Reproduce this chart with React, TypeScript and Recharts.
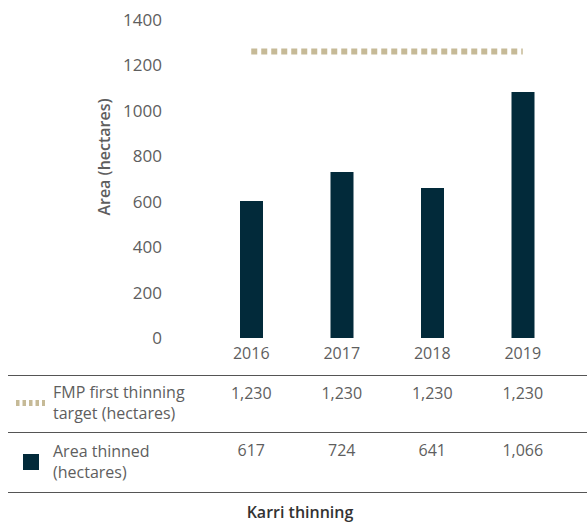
import React from 'react';
import { ComposedChart, Bar, Line, XAxis, YAxis } from 'recharts';

const years = ['2016', '2017', '2018', '2019'];
// bar heights as drawn in the picture (hectares)
const areaThinned = [603, 731, 660, 1083];
// target line level as drawn in the picture
const targetLevel = [1261, 1261, 1261, 1261];
// table labels
const targetLabels = ['1,230', '1,230', '1,230', '1,230'];
const areaLabels = ['617', '724', '641', '1,066'];
const yTicks = [0, 200, 400, 600, 800, 1000, 1200, 1400];

const data = years.map((y, i) => ({ year: y, area: areaThinned[i], target: targetLevel[i] }));

const FONT = '"Open Sans", sans-serif';
const GREY = '#5e5e5e';
const NAVY = '#022a3a';
const GOLD = '#c6ba97';

const XTick = (props: any) => {
  const { x, y, payload } = props;
  const i = years.indexOf(payload.value);
  const common = { x, textAnchor: 'middle' as const, fill: GREY, fontFamily: FONT, fontSize: 16, dy: '0.35em' };
  return (
    <g>
      <text {...common} y={y + 15}>{payload.value}</text>
      <text {...common} y={y + 55}>{targetLabels[i]}</text>
      <text {...common} y={y + 112}>{areaLabels[i]}</text>
    </g>
  );
};

const YLabel = () => (
  <text
    x={104}
    y={157}
    transform="rotate(-90 104 157)"
    textAnchor="middle"
    dy="0.35em"
    fill={GREY}
    fontFamily={FONT}
    fontSize={16}
    fontWeight={600}
  >
    Area (hectares)
  </text>
);

export default function App() {
  return (
    <div style={{ position: 'fixed', left: 0, top: 0, width: 587, height: 524, background: '#fff' }}>
      <ComposedChart
        width={587}
        height={524}
        data={data}
        margin={{ top: 20, right: 19, bottom: 156, left: 0 }}
      >
        <XAxis
          dataKey="year"
          axisLine={false}
          tickLine={false}
          tickSize={0}
          tickMargin={0}
          height={30}
          tick={<XTick />}
          interval={0}
        />
        <YAxis
          domain={[0, 1400]}
          ticks={yTicks}
          axisLine={false}
          tickLine={false}
          tickSize={0}
          tickMargin={44}
          width={206}
          tick={{ fill: GREY, fontFamily: FONT, fontSize: 17 }}
          label={<YLabel />}
        />
        <Bar dataKey="area" fill={NAVY} barSize={23} isAnimationActive={false} />
        <Line
          dataKey="target"
          stroke={GOLD}
          strokeWidth={6}
          strokeDasharray="6 4"
          dot={false}
          activeDot={false}
          isAnimationActive={false}
        />
      </ComposedChart>
      <svg
        width={587}
        height={524}
        style={{ position: 'absolute', left: 0, top: 0, pointerEvents: 'none' }}
      >
        <line x1={8} x2={587} y1={375.5} y2={375.5} stroke="#555" strokeWidth={1} />
        <line x1={8} x2={587} y1={432.5} y2={432.5} stroke="#555" strokeWidth={1} />
        <line x1={8} x2={587} y1={492.5} y2={492.5} stroke="#555" strokeWidth={1} />
        <line x1={16} x2={45} y1={403} y2={403} stroke={GOLD} strokeWidth={6} strokeDasharray="3.5 3" />
        <rect x={23} y={454} width={16} height={16} fill={NAVY} />
        <g fill={GREY} fontFamily={FONT} fontSize={16}>
          <text x={53} y={392} dy="0.35em">FMP first thinning</text>
          <text x={53} y={413} dy="0.35em">target (hectares)</text>
          <text x={53} y={451} dy="0.35em">Area thinned</text>
          <text x={53} y={472} dy="0.35em">(hectares)</text>
        </g>
        <text x={300} y={512} dy="0.35em" textAnchor="middle" fill="#333" fontFamily={FONT} fontSize={16} fontWeight={600}>
          Karri thinning
        </text>
      </svg>
    </div>
  );
}
